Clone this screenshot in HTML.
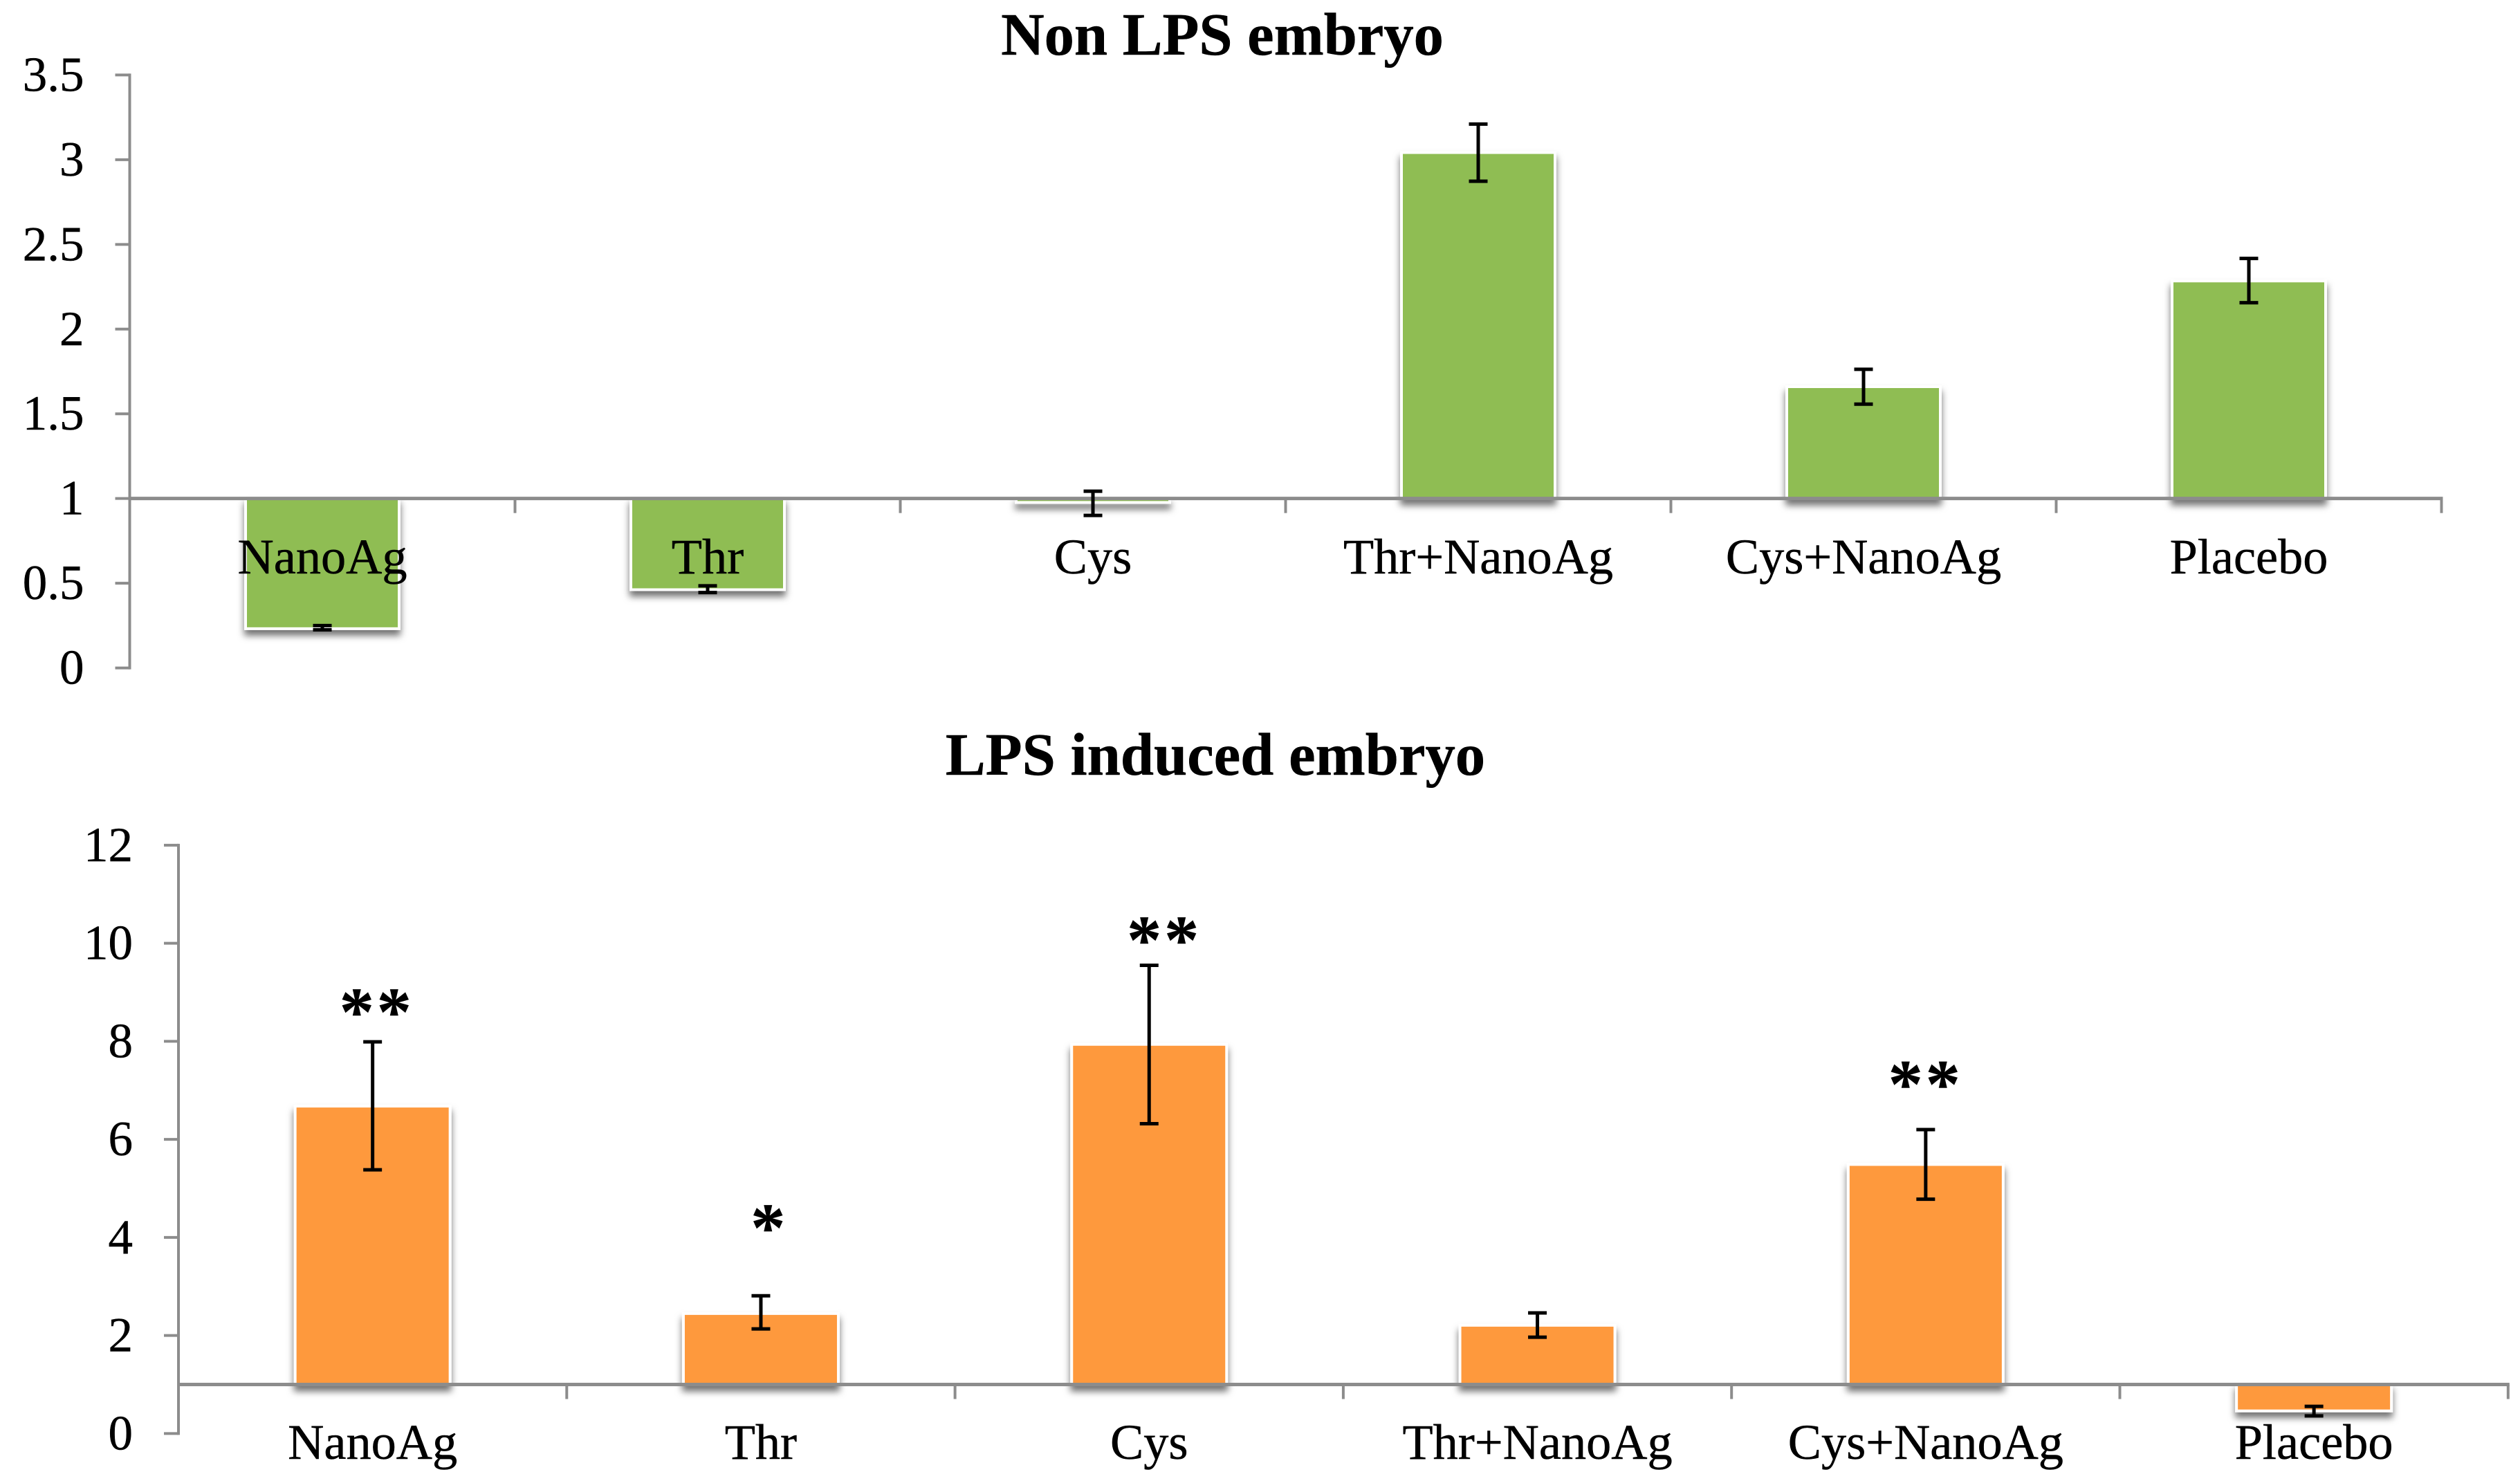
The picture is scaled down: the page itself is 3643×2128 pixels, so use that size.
<!DOCTYPE html>
<html lang="en">
<head>
<meta charset="utf-8">
<title>Non LPS embryo and LPS induced embryo</title>
<style>
html,body{margin:0;padding:0;background:#fff;width:3643px;height:2128px;overflow:hidden}
svg{display:block}
text{font-family:"Liberation Serif",serif;fill:#000;stroke:#000;stroke-width:0.5px}
</style>
</head>
<body>
<svg id="figure" xmlns="http://www.w3.org/2000/svg" width="3643" height="2128" viewBox="0 0 3643 2128">
<defs>
<filter id="bar-shadow" filterUnits="userSpaceOnUse" x="0" y="0" width="3643" height="2128">
<feDropShadow dx="0" dy="8" stdDeviation="5" flood-color="#000" flood-opacity="0.55"/>
</filter>
</defs>
<rect width="3643" height="2128" fill="#fff"/>
<text x="1767" y="79" font-size="86.6" font-weight="700" text-anchor="middle">Non LPS embryo</text>
<text x="1757" y="1120" font-size="86.7" font-weight="700" text-anchor="middle">LPS induced embryo</text>
<g id="top-chart"></g>
<g id="bottom-chart"></g>
</svg>
<script>
const categories = ['NanoAg', 'Thr', 'Cys', 'Thr+NanoAg', 'Cys+NanoAg', 'Placebo'];

const topTicks = [0, 0.5, 1, 1.5, 2, 2.5, 3, 3.5];
const topValues = [0.24, 0.47, 0.985, 3.034, 1.652, 2.276];
const topErrHigh = [0.25, 0.485, 1.043, 3.21, 1.763, 2.417];
const topErrLow = [0.225, 0.445, 0.90, 2.873, 1.557, 2.156];

const bottomTicks = [0, 2, 4, 6, 8, 10, 12];
const bottomValues = [6.65, 2.42, 7.91, 2.18, 5.46, 0.49];
const bottomErrHigh = [7.99, 2.81, 9.55, 2.46, 6.2, 0.555];
const bottomErrLow = [5.38, 2.135, 6.32, 1.965, 4.78, 0.36];
const bottomStars = ['**', '*', '**', '', '**', ''];
const bottomStarLevels = [8.78, 4.38, 10.25, null, 7.31, null];
const bottomStarShift = [0.002, 0.013, 0.03, 0, -0.009, 0];

const NS = 'http://www.w3.org/2000/svg';
const AXIS = '#8c8c8c';

function make(parent, tag, attrs, text) {
  const el = document.createElementNS(NS, tag);
  for (const k in attrs) el.setAttribute(k, attrs[k]);
  if (text !== undefined) el.textContent = text;
  parent.appendChild(el);
  return el;
}

function drawChart(root, cfg) {
  const y = v => cfg.y0 + (cfg.yTop - cfg.y0) * (v - cfg.ticks[0]) / (cfg.ticks[cfg.ticks.length - 1] - cfg.ticks[0]);
  const band = i => cfg.x0 + cfg.step * (i + 0.5);
  const base = y(1);

  cfg.values.forEach((v, i) => {
    const h = Math.abs(y(v) - base);
    const bar = make(root, 'rect', {
      x: band(i) - cfg.barW / 2 - 2, y: v >= 1 ? y(v) - 2 : base, width: cfg.barW + 4, height: h + 2,
      fill: cfg.color, stroke: '#fff', 'stroke-width': 4, filter: 'url(#bar-shadow)'
    });
    
    
  });

  const yAxis = make(root, 'line', {x1: cfg.x0, x2: cfg.x0, y1: y(cfg.ticks[cfg.ticks.length - 1]) - 2, y2: y(cfg.ticks[0]) + 2, stroke: AXIS, 'stroke-width': 4});
  
  

  const xAxis = make(root, 'line', {x1: cfg.x0, x2: cfg.x0 + cfg.step * categories.length + 2, y1: base, y2: base, stroke: AXIS, 'stroke-width': 5});
  
  

  cfg.ticks.forEach(t => {
    const tick = make(root, 'line', {x1: cfg.x0 - 21, x2: cfg.x0, y1: y(t), y2: y(t), stroke: AXIS, 'stroke-width': 4});
    
    
    const label = make(root, 'text', {x: cfg.x0 + cfg.yLabelDx, y: y(t) + 23, 'font-size': 71, 'text-anchor': 'end'}, String(t));
    
    
  });

  for (let i = 0; i <= categories.length; i++) {
    const tick = make(root, 'line', {x1: cfg.x0 + cfg.step * i, x2: cfg.x0 + cfg.step * i, y1: base, y2: base + 21, stroke: AXIS, 'stroke-width': 4});
    
    
  }

  categories.forEach((c, i) => {
    const label = make(root, 'text', {x: band(i), y: cfg.labelY, 'font-size': 72.3, 'text-anchor': 'middle'}, c);
    
    
  });

  cfg.errHigh.forEach((hi, i) => {
    const lo = cfg.errLow[i];
    const cx = band(i);
    const stem = make(root, 'line', {x1: cx, x2: cx, y1: y(hi), y2: y(lo), stroke: '#000', 'stroke-width': 5});
    
    
    const capHigh = make(root, 'line', {x1: cx - 13.5, x2: cx + 13.5, y1: y(hi), y2: y(hi), stroke: '#000', 'stroke-width': 5});
    
    
    const capLow = make(root, 'line', {x1: cx - 13.5, x2: cx + 13.5, y1: y(lo), y2: y(lo), stroke: '#000', 'stroke-width': 5});
    
    
  });

  (cfg.stars || []).forEach((s, i) => {
    if (!s) return;
    const star = make(root, 'text', {
      x: band(i) + cfg.starShift[i] * cfg.step + 5, y: y(cfg.starLevels[i]) + 46,
      'font-size': 100, 'font-weight': 700, 'text-anchor': 'middle', 'letter-spacing': 4
    }, s);
    
    
  });
}

drawChart(document.getElementById('top-chart'), {
  ticks: topTicks, values: topValues, errHigh: topErrHigh, errLow: topErrLow,
  x0: 187.5, step: 557, y0: 965.6, yTop: 108.4, barW: 218, color: '#8fbd52', labelY: 829, yLabelDx: -66
});

drawChart(document.getElementById('bottom-chart'), {
  ticks: bottomTicks, values: bottomValues, errHigh: bottomErrHigh, errLow: bottomErrLow,
  stars: bottomStars, starLevels: bottomStarLevels, starShift: bottomStarShift,
  x0: 258, step: 561.3, y0: 2072.4, yTop: 1221.9, barW: 220, color: '#fe993e', labelY: 2109, yLabelDx: -66
});
</script>
</body>
</html>
